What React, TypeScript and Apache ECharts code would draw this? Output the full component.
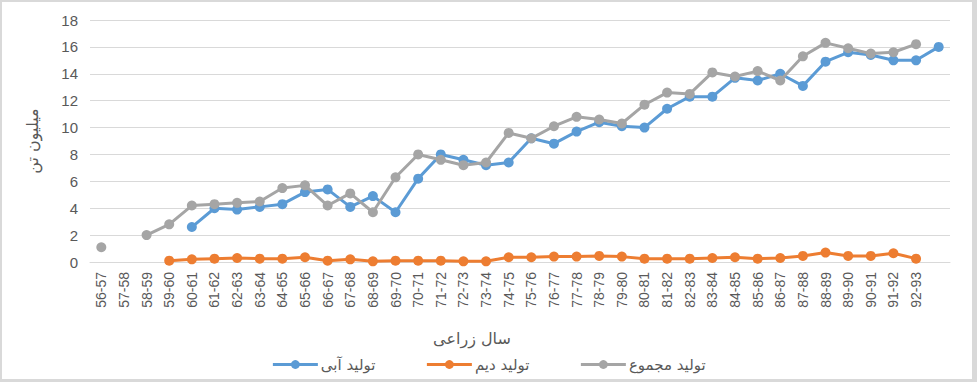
import React, { useEffect, useRef } from "react";
import * as echarts from "echarts";

const categories = [
  "56-57", "57-58", "58-59", "59-60", "60-61", "61-62", "62-63", "63-64", "64-65", "65-66",
  "66-67", "67-68", "68-69", "69-70", "70-71", "71-72", "72-73", "73-74", "74-75", "75-76",
  "76-77", "77-78", "78-79", "79-80", "80-81", "81-82", "82-83", "83-84", "84-85", "85-86",
  "86-87", "87-88", "88-89", "89-90", "90-91", "91-92", "92-93", "",
];

const irrigated = [
  null, null, null, null, 2.6, 4.0, 3.9, 4.1, 4.3, 5.2,
  5.4, 4.1, 4.9, 3.7, 6.2, 8.0, 7.6, 7.2, 7.4, 9.2,
  8.8, 9.7, 10.4, 10.1, 10.0, 11.4, 12.3, 12.3, 13.7, 13.5,
  14.0, 13.1, 14.9, 15.6, 15.4, 15.0, 15.0, 16.0,
];

const rainfed = [
  null, null, null, 0.1, 0.2, 0.25, 0.3, 0.25, 0.25, 0.35,
  0.1, 0.2, 0.05, 0.1, 0.1, 0.1, 0.05, 0.05, 0.35, 0.35,
  0.4, 0.4, 0.45, 0.4, 0.25, 0.25, 0.25, 0.3, 0.35, 0.25,
  0.3, 0.45, 0.7, 0.45, 0.45, 0.65, 0.25, null,
];

const total = [
  1.1, null, 2.0, 2.8, 4.2, 4.3, 4.4, 4.5, 5.5, 5.7,
  4.2, 5.1, 3.7, 6.3, 8.0, 7.6, 7.2, 7.4, 9.6, 9.2,
  10.1, 10.8, 10.6, 10.3, 11.7, 12.6, 12.5, 14.1, 13.8, 14.2,
  13.5, 15.3, 16.3, 15.9, 15.5, 15.6, 16.2, null,
];

const seriesNames = ["تولید آبی", "تولید دیم", "تولید مجموع"];
const colors = ["#5B9BD5", "#ED7D31", "#A5A5A5"];
const yAxisTitle = "میلیون تن";
const xAxisTitle = "سال زراعی";

const FONT = "'Liberation Sans', 'DejaVu Sans', sans-serif";
const FA_FONT = "'DejaVu Sans', sans-serif";

export default function App() {
  const ref = useRef<HTMLDivElement>(null);
  useEffect(() => {
    if (!ref.current) return;
    const chart = echarts.init(ref.current, null, { renderer: "svg" });
    const datasets = [irrigated, rainfed, total];
    const border = "#d9d9d9";
    chart.setOption({
      animation: false,
      backgroundColor: "#ffffff",
      grid: { left: 90, right: 27, top: 20, bottom: 120, containLabel: false },
      legend: {
        data: seriesNames,
        left: "center",
        top: 352,
        itemWidth: 45,
        itemHeight: 11,
        itemGap: 50,
        lineStyle: { width: 3 },
        textStyle: { fontFamily: FA_FONT, fontSize: 15, color: "#595959", padding: [0, 0, 0, -2] },
      },
      xAxis: {
        type: "category",
        data: categories,
        boundaryGap: true,
        axisLine: { show: true, lineStyle: { color: border, width: 1 } },
        axisTick: { show: false },
        axisLabel: {
          rotate: 90,
          interval: 0,
          margin: 10,
          fontSize: 14,
          fontFamily: FONT,
          color: "#595959",
        },
      },
      yAxis: {
        type: "value",
        min: 0,
        max: 18,
        interval: 2,
        name: yAxisTitle,
        nameLocation: "middle",
        nameRotate: 90,
        nameGap: 50,
        nameTextStyle: { fontFamily: FA_FONT, fontSize: 16, color: "#595959" },
        axisLine: { show: false },
        axisTick: { show: false },
        splitLine: { lineStyle: { color: border, width: 1 } },
        axisLabel: { fontSize: 15, fontFamily: FONT, color: "#595959", margin: 12 },
      },
      graphic: [
        { type: "rect", shape: { x: 0, y: 0, width: 977, height: 2 }, style: { fill: border }, silent: true },
        { type: "rect", shape: { x: 0, y: 0, width: 2, height: 382 }, style: { fill: border }, silent: true },
        { type: "rect", shape: { x: 0, y: 379, width: 977, height: 3 }, style: { fill: border }, silent: true },
        { type: "rect", shape: { x: 972, y: 0, width: 5, height: 382 }, style: { fill: border }, silent: true },
        {
          type: "text",
          x: 472,
          y: 338,
          style: {
            text: xAxisTitle,
            fontFamily: FA_FONT,
            fontSize: 16,
            fill: "#595959",
            align: "center",
            verticalAlign: "middle",
          },
        },
      ],
      series: seriesNames.map((name, i) => ({
        name,
        type: "line",
        data: datasets[i],
        connectNulls: false,
        symbol: "circle",
        symbolSize: 10,
        showSymbol: true,
        showAllSymbol: true,
        lineStyle: { color: colors[i], width: 3 },
        itemStyle: { color: colors[i] },
        z: 2 + i,
      })),
    });
    return () => chart.dispose();
  }, []);
  return (
    <div
      ref={ref}
      style={{ position: "fixed", left: 0, top: 0, width: 977, height: 382, background: "#fff" }}
    />
  );
}
